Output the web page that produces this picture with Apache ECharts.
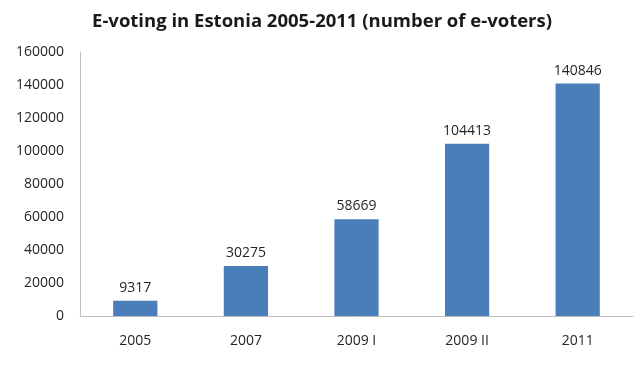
<!DOCTYPE html>
<html><head><meta charset="utf-8">
<script src="https://cdn.jsdelivr.net/npm/echarts@6/dist/echarts.min.js"></script>
<style>html,body{margin:0;padding:0;background:#fff}#c{width:644px;height:366px}</style>
</head><body><div id="c"></div>
<script>
var categories = ['2005', '2007', '2009 I', '2009 II', '2011'];
var voters = [9317, 30275, 58669, 104413, 140846];
var chart = echarts.init(document.getElementById('c'));
chart.setOption({
  backgroundColor: '#fff',
  animation: false,
  title: {
    text: 'E-voting in Estonia 2005-2011 (number of e-voters)',
    left: 'center', top: 7,
    textStyle: {fontFamily: 'Open Sans', fontSize: 18.5, fontWeight: 'bold', color: '#1a1a1a'}
  },
  grid: {left: 80, right: 11, top: 52, bottom: 50},
  xAxis: {
    type: 'category', data: categories,
    axisLine: {lineStyle: {color: '#bfbfbf'}},
    axisTick: {show: false},
    axisLabel: {fontFamily: 'Open Sans', fontSize: 14, color: '#262626', margin: 18}
  },
  yAxis: {
    type: 'value', min: 0, max: 160000, interval: 20000,
    axisLine: {show: true, lineStyle: {color: '#bfbfbf'}},
    axisTick: {show: false},
    splitLine: {show: false},
    axisLabel: {fontFamily: 'Open Sans', fontSize: 14, color: '#262626', margin: 16,
      formatter: function (v) { return String(v); }}
  },
  series: [{
    type: 'bar', data: voters, barWidth: '40%',
    itemStyle: {color: '#4a7ebb'},
    label: {show: true, position: 'top', fontFamily: 'Open Sans', fontSize: 14, color: '#262626', distance: 6}
  }]
});
</script></body></html>
